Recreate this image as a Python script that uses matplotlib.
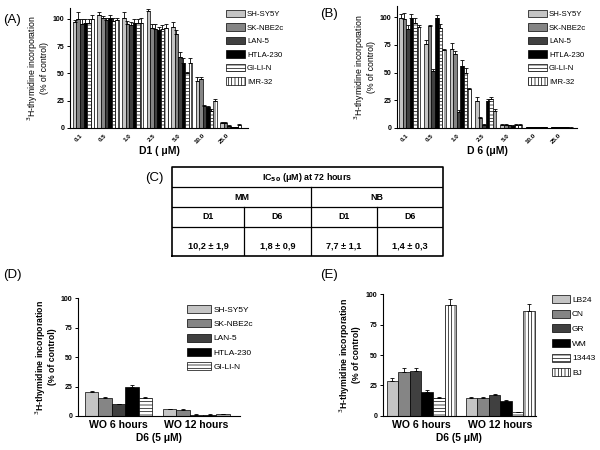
import numpy as np
import matplotlib
matplotlib.use("Agg")
import matplotlib.pyplot as plt

plt.rcParams['font.family'] = ['Liberation Sans', 'DejaVu Sans']
plt.rcParams['hatch.linewidth'] = 0.5

# ---- data ----
conc = ['0.1', '0.5', '1.0', '2.5', '5.0', '10.0', '25.0']
nb_lines = ['SH-SY5Y', 'SK-NBE2c', 'LAN-5', 'HTLA-230', 'GI-LI-N', 'IMR-32']

a_vals = [
    [97, 104, 101, 107, 93, 43, 5],
    [100, 101, 95, 92, 86, 45, 5],
    [95, 99, 94, 91, 65, 20, 2],
    [96, 101, 96, 90, 60, 19, 1],
    [96, 98, 96, 91, 50, 16, 1],
    [100, 99, 96, 92, 60, 25, 3],
]
a_err = [
    [2, 2, 5, 2, 4, 4, 0.5],
    [6, 2, 3, 3, 4, 2, 0.5],
    [5, 2, 3, 4, 5, 1, 0.3],
    [4, 3, 4, 3, 4, 1, 0.3],
    [4, 3, 4, 3, 1, 1, 0.3],
    [4, 2, 5, 3, 4, 2, 0.5],
]

b_vals = [
    [99, 76, 71, 24, 3, 1, 1],
    [98, 92, 67, 9, 3, 0.5, 0.5],
    [89, 51, 14, 3, 2.5, 1, 0.5],
    [99, 99, 56, 24, 2, 1, 0.5],
    [95, 90, 50, 26, 3, 1, 0.5],
    [91, 70, 35, 15, 3, 0.5, 0.3],
]
b_err = [
    [4, 3, 6, 4, 0.3, 0.2, 0.2],
    [6, 1, 2, 1, 0.3, 0.2, 0.2],
    [4, 2, 2, 1, 0.3, 0.2, 0.2],
    [4, 3, 5, 2, 0.3, 0.2, 0.2],
    [4, 4, 4, 2, 0.3, 0.2, 0.2],
    [2, 1, 1, 2, 0.3, 0.2, 0.2],
]

wash = ['WO 6 hours', 'WO 12 hours']
d_lines = ['SH-SY5Y', 'SK-NBE2c', 'LAN-5', 'HTLA-230', 'GI-LI-N']
d_vals = [[20, 5.5], [15, 5], [10, 1], [25, 1], [15, 1.5]]
d_err = [[1, 0.5], [0.7, 0.5], [0.5, 0.3], [1.5, 0.3], [0.7, 0.3]]

e_lines = ['LB24', 'CN', 'GR', 'WM', '13443', 'BJ']
e_vals = [[29, 15], [36, 15], [37, 17], [20, 12], [15, 3], [91, 86]]
e_err = [[2, 0.8], [3, 0.8], [2, 1], [1.5, 0.8], [0.5, 0.3], [5, 6]]

ic50_groups = ['MM', 'NB']
ic50_drugs = ['D1', 'D6', 'D1', 'D6']
ic50_vals = ['10,2 ± 1,9', '1,8 ± 0,9', '7,7 ± 1,1', '1,4 ± 0,3']

# bar styles: face colour, hatch
STY = [('#c4c4c4', ''), ('#858585', ''), ('#404040', ''), ('#000000', ''),
       ('white', '-----'), ('white', '|||||')]

YLAB = '$^{3}$H-thymidine incorporation\n(% of control)'


def style_axes(ax):
    for s in ['top', 'right']:
        ax.spines[s].set_visible(False)
    for s in ['left', 'bottom']:
        ax.spines[s].set_linewidth(0.8)
    ax.tick_params(axis='y', length=2.5, width=0.7, pad=1.5)
    ax.tick_params(axis='x', length=0)
    for t in ax.get_yticklabels():
        t.set_fontweight('bold')


def grouped(ax, vals, errs, width, styles):
    n = len(vals)
    x = np.arange(len(vals[0]))
    handles = []
    for i in range(n):
        fc, h = styles[i]
        pos = x + (i - (n - 1) / 2) * width
        b = ax.bar(pos, vals[i], width, color=fc, hatch=h, edgecolor='black', linewidth=0.5)
        e = np.array(errs[i])
        ax.errorbar(pos, vals[i], yerr=[np.zeros_like(e), e], fmt='none',
                    ecolor='black', elinewidth=0.6, capsize=1.3, capthick=0.6)
        handles.append(b)
    return handles


fig = plt.figure(figsize=(6, 4.5), dpi=100)

# ---- (A) ----
axA = fig.add_axes([0.1167, 0.7156, 0.297, 0.2667])
hA = grouped(axA, a_vals, a_err, 0.143, STY)
axA.set_xlim(-0.55, 6.72)
axA.set_ylim(0, 110)
axA.set_yticks([0, 25, 50, 75, 100])
axA.set_xticks(range(len(conc)))
axA.set_xticklabels(conc, rotation=45, ha='right', fontsize=4.5, fontweight='bold')
axA.tick_params(axis='y', labelsize=5)
style_axes(axA)
axA.set_ylabel(YLAB, fontsize=6.3, labelpad=3, linespacing=1.0)
axA.set_xlabel('D1 ( μM)', fontsize=7.5, fontweight='bold', labelpad=1)
axA.legend(hA, nb_lines, loc='upper left', bbox_to_anchor=(226 / 600, 1 - 10 / 450),
           bbox_transform=fig.transFigure, frameon=False, fontsize=5.6,
           handlelength=2.4, handleheight=1.1, labelspacing=0.65, handletextpad=0.3,
           borderaxespad=0, borderpad=0)
fig.text(3 / 600, 1 - 20 / 450, '(A)', fontsize=9.5, va='center')

# ---- (B) ----
axB = fig.add_axes([0.6617, 0.7156, 0.3, 0.271])
hB = grouped(axB, b_vals, b_err, 0.14, STY)
axB.set_xlim(-0.5, 6.6)
axB.set_ylim(0, 110)
axB.set_yticks([0, 25, 50, 75, 100])
axB.set_xticks(range(len(conc)))
axB.set_xticklabels(conc, rotation=45, ha='right', fontsize=4.5, fontweight='bold')
axB.tick_params(axis='y', labelsize=5)
style_axes(axB)
axB.set_ylabel(YLAB, fontsize=6.3, labelpad=3, linespacing=1.0)
axB.set_xlabel('D 6 (μM)', fontsize=7.5, fontweight='bold', labelpad=1)
axB.legend(hB, nb_lines, loc='upper left', bbox_to_anchor=(528 / 600, 1 - 10 / 450),
           bbox_transform=fig.transFigure, frameon=False, fontsize=5.6,
           handlelength=2.4, handleheight=1.1, labelspacing=0.65, handletextpad=0.3,
           borderaxespad=0, borderpad=0)
fig.text(320 / 600, 1 - 14 / 450, '(B)', fontsize=9.5, va='center')

# ---- (C) table ----
axC = fig.add_axes([0.2867, 0.431, 0.4517, 0.198])
axC.set_xlim(0, 1)
axC.set_ylim(0, 1)
axC.axis('off')
rows = [1, 0.775, 0.551, 0.326, 0]
axC.plot([0, 1, 1, 0, 0], [0, 0, 1, 1, 0], color='black', lw=1.2, clip_on=False)
for y in rows[1:-1]:
    axC.plot([0, 1], [y, y], color='black', lw=0.9)
axC.plot([0.512, 0.512], [0, rows[1]], color='black', lw=0.9)
for xv in [0.266, 0.755]:
    axC.plot([xv, xv], [0, rows[2]], color='black', lw=0.9)
axC.text(0.5, 0.876, 'IC$_{\\mathbf{50}}$ (μM) at 72 hours', ha='center', va='center',
         fontsize=6.4, fontweight='bold')
for cx, g in zip([0.256, 0.756], ic50_groups):
    axC.text(cx, 0.655, g, ha='center', va='center', fontsize=6.4, fontweight='bold')
cells = [0.133, 0.389, 0.633, 0.877]
for cx, d, v in zip(cells, ic50_drugs, ic50_vals):
    axC.text(cx, 0.44, d, ha='center', va='center', fontsize=6.4, fontweight='bold')
    axC.text(cx, 0.116, v, ha='center', va='center', fontsize=6.6, fontweight='bold')
fig.text(145 / 600, 1 - 178 / 450, '(C)', fontsize=9.5, va='center')

# ---- (D) ----
axD = fig.add_axes([0.13, 0.0756, 0.27, 0.262])
hD = grouped(axD, d_vals, d_err, 0.172, STY[:5])
axD.set_xlim(-0.52, 1.56)
axD.set_ylim(0, 100)
axD.set_yticks([0, 25, 50, 75, 100])
axD.set_xticks(range(len(wash)))
axD.set_xticklabels(wash, fontsize=7.6, fontweight='bold')
axD.tick_params(axis='y', labelsize=5)
axD.tick_params(axis='x', pad=3)
style_axes(axD)
axD.set_ylabel(YLAB, fontsize=6.3, fontweight='bold', labelpad=3, linespacing=1.0)
axD.set_xlabel('D6 (5 μM)', fontsize=7.4, fontweight='bold', labelpad=2)
axD.legend(hD, d_lines, loc='upper left', bbox_to_anchor=(187 / 600, 1 - 305 / 450),
           bbox_transform=fig.transFigure, frameon=False, fontsize=6,
           handlelength=2.9, handleheight=1.1, labelspacing=0.65, handletextpad=0.3,
           borderaxespad=0, borderpad=0)
fig.text(3 / 600, 1 - 275 / 450, '(D)', fontsize=9.5, va='center')

# ---- (E) ----
axE = fig.add_axes([0.638, 0.0756, 0.255, 0.271])
hE = grouped(axE, e_vals, e_err, 0.147, STY)
axE.set_xlim(-0.49, 1.45)
axE.set_ylim(0, 100)
axE.set_yticks([0, 25, 50, 75, 100])
axE.set_xticks(range(len(wash)))
axE.set_xticklabels(wash, fontsize=7.6, fontweight='bold')
axE.tick_params(axis='y', labelsize=5)
axE.tick_params(axis='x', pad=3)
style_axes(axE)
axE.set_ylabel(YLAB, fontsize=6.3, fontweight='bold', labelpad=3, linespacing=1.0)
axE.set_xlabel('D6 (5 μM)', fontsize=7.4, fontweight='bold', labelpad=2)
axE.legend(hE, e_lines, loc='upper left', bbox_to_anchor=(552 / 600, 1 - 295 / 450),
           bbox_transform=fig.transFigure, frameon=False, fontsize=6,
           handlelength=2.1, handleheight=1.1, labelspacing=0.7, handletextpad=0.3,
           borderaxespad=0, borderpad=0)
fig.text(320 / 600, 1 - 275 / 450, '(E)', fontsize=9.5, va='center')

fig.savefig('out.png', dpi=100)
